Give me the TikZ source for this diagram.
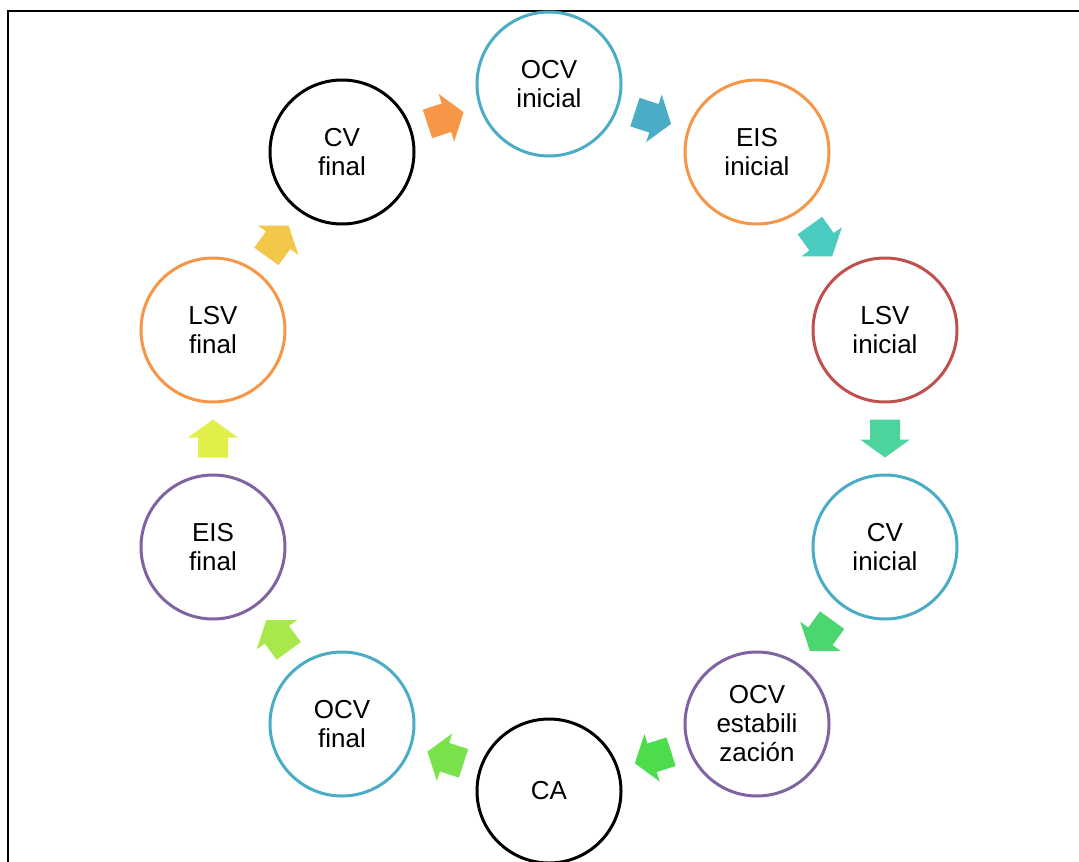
\documentclass[tikz,border=0pt]{standalone}
\usepackage{fontspec}
\setmainfont{Liberation Sans}
\usetikzlibrary{calc}
\definecolor{cblue}{HTML}{4BACC6}
\definecolor{corange}{HTML}{F79646}
\definecolor{cred}{HTML}{C0504D}
\definecolor{cpurple}{HTML}{8064A2}
\definecolor{a1}{HTML}{F79646}
\definecolor{a2}{HTML}{4BACC6}
\definecolor{a3}{HTML}{4BCABF}
\definecolor{a4}{HTML}{4BD49C}
\definecolor{a5}{HTML}{4BD672}
\definecolor{a6}{HTML}{4CDC4C}
\definecolor{a7}{HTML}{7AE24A}
\definecolor{a8}{HTML}{A9E84A}
\definecolor{a9}{HTML}{E2EF4A}
\definecolor{a10}{HTML}{F2C84A}
\tikzset{
  step circle/.style={circle,draw=#1,line width=3pt,fill=white,minimum size=144pt,inner sep=0pt,
    align=center,font=\fontsize{26}{29}\selectfont},
  pics/barrow/.style={code={\fill[#1] (-19pt,-15pt) -- (1pt,-15pt) -- (1pt,-25pt) -- (19pt,0pt) -- (1pt,25pt) -- (1pt,15pt) -- (-19pt,15pt) -- cycle;}}
}
\newcommand\cyclearrow[3]{\path let \p1=($(#2.center)-(#1.center)$), \n1={atan2(\y1,\x1)} in ($(#1.center)!0.5!(#2.center)$) pic[rotate=\n1]{barrow=#3};}
\begin{document}
\begin{tikzpicture}[x=1pt,y=1pt]
\useasboundingbox (0,0) rectangle (1079,-862);
\draw[line width=2.5pt] (8,-900) -- (8,-11) -- (1100,-11);
\node[step circle=cblue] (n1) at (549,-84) {OCV\\inicial};
\node[step circle=corange] (n2) at (757,-152) {EIS\\inicial};
\node[step circle=cred] (n3) at (885,-330) {LSV\\inicial};
\node[step circle=cblue] (n4) at (885,-547) {CV\\inicial};
\node[step circle=cpurple] (n5) at (757,-724) {OCV\\estabili\\zación};
\node[step circle=black] (n6) at (549,-791) {CA};
\node[step circle=cblue] (n7) at (342,-724) {OCV\\final};
\node[step circle=cpurple] (n8) at (213,-547) {EIS\\final};
\node[step circle=corange] (n9) at (213,-330) {LSV\\final};
\node[step circle=black] (n10) at (342,-152) {CV\\final};
\cyclearrow{n10}{n1}{a1}
\cyclearrow{n1}{n2}{a2}
\cyclearrow{n2}{n3}{a3}
\cyclearrow{n3}{n4}{a4}
\cyclearrow{n4}{n5}{a5}
\cyclearrow{n5}{n6}{a6}
\cyclearrow{n6}{n7}{a7}
\cyclearrow{n7}{n8}{a8}
\cyclearrow{n8}{n9}{a9}
\cyclearrow{n9}{n10}{a10}
\end{tikzpicture}
\end{document}
